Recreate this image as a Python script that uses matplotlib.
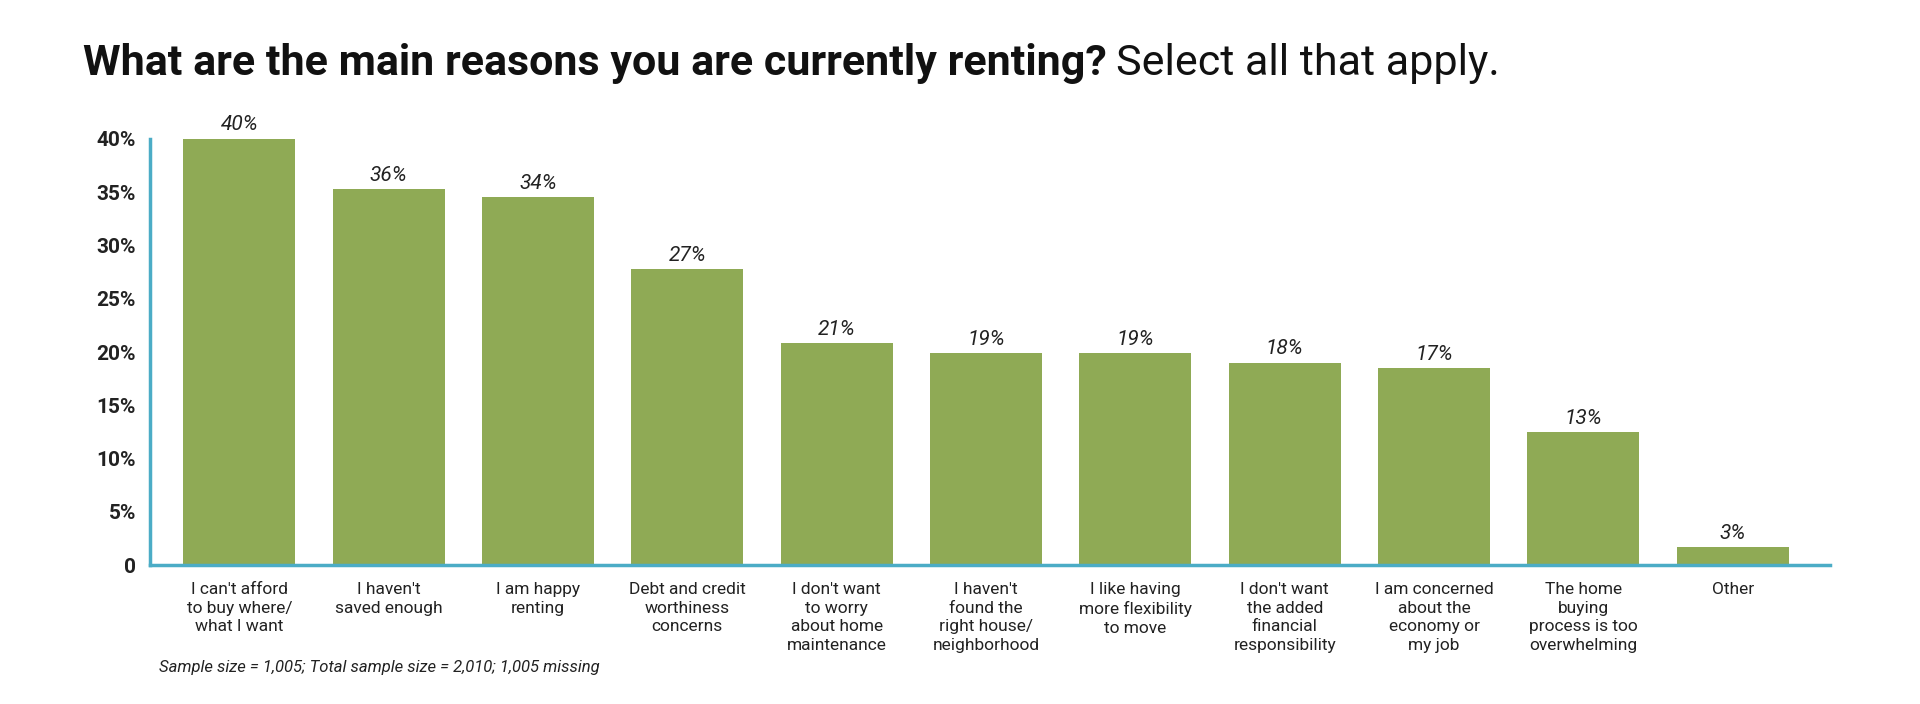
import matplotlib.pyplot as plt

plt.rcParams['font.family'] = ['Roboto', 'DejaVu Sans']

categories = ["I can't afford\nto buy where/\nwhat I want", "I haven't\nsaved enough", "I am happy\nrenting",
              "Debt and credit\nworthiness\nconcerns", "I don't want\nto worry\nabout home\nmaintenance",
              "I haven't\nfound the\nright house/\nneighborhood", "I like having\nmore flexibility\nto move",
              "I don't want\nthe added\nfinancial\nresponsibility", "I am concerned\nabout the\neconomy or\nmy job",
              "The home\nbuying\nprocess is too\noverwhelming", "Other"]
values = [40.0, 35.3, 34.5, 27.8, 20.8, 19.9, 19.9, 19.0, 18.5, 12.5, 1.7]
labels = ["40%", "36%", "34%", "27%", "21%", "19%", "19%", "18%", "17%", "13%", "3%"]
yticks = [0, 5, 10, 15, 20, 25, 30, 35, 40]
yticklabels = ["0", "5%", "10%", "15%", "20%", "25%", "30%", "35%", "40%"]

fig = plt.figure(figsize=(19.2, 7.04), dpi=100)
ax = fig.add_axes([0.078, 0.197, 0.875, 0.606])
x = range(len(values))
bars = ax.bar(x, values, width=0.75, color='#8faa55')
ax.set_xlim(-0.6, len(values) - 0.35)
ax.set_ylim(0, 40)
for b, lab in zip(bars, labels):
    ax.text(b.get_x() + b.get_width() / 2, b.get_height() + 0.4, lab, ha='center', va='bottom',
            style='italic', fontsize=15, color='#222222')

ax.set_yticks(yticks)
ax.set_yticklabels(yticklabels, fontsize=15, fontweight='bold', color='#222222')
ax.set_xticks(list(x))
ax.set_xticklabels(categories, fontsize=12.5, color='#222222', va='top', linespacing=1.3)
ax.tick_params(axis='both', length=0, pad=10)
ax.tick_params(axis='x', pad=12)
for s in ['top', 'right']:
    ax.spines[s].set_visible(False)
for s in ['left', 'bottom']:
    ax.spines[s].set_color('#4bacc6')
    ax.spines[s].set_linewidth(2.5)

t = fig.text(0.043, 0.91, "What are the main reasons you are currently renting?", fontsize=31,
             fontweight='bold', color='#111111', va='center')
fig.canvas.draw()
bb = t.get_window_extent()
fig.text((bb.x1 + 10) / fig.bbox.width, 0.91, "Select all that apply.", fontsize=31,
         color='#111111', va='center')

fig.text(0.083, 0.045, "Sample size = 1,005; Total sample size = 2,010; 1,005 missing",
         style='italic', fontsize=12, color='#222222')

fig.savefig('out.png', dpi=100, facecolor='white')
